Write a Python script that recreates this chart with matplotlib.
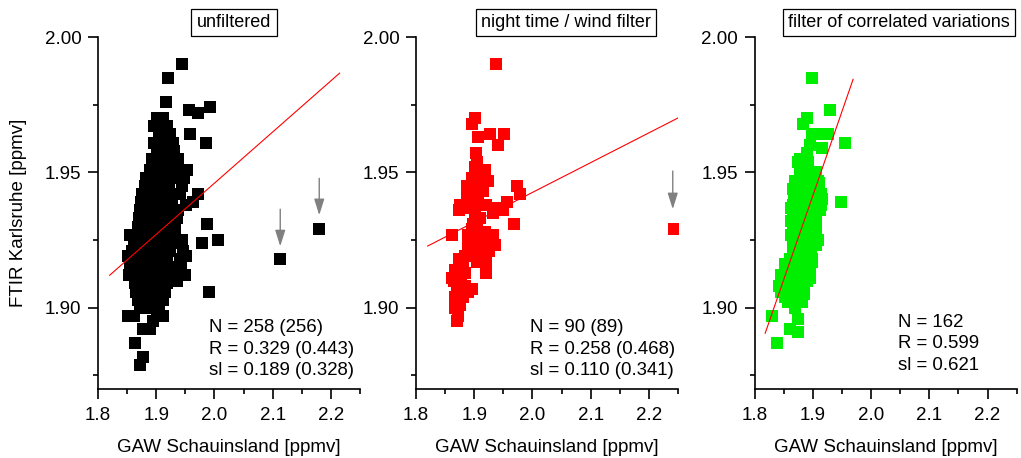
import matplotlib
matplotlib.use("Agg")
import matplotlib.pyplot as plt
from matplotlib.ticker import MultipleLocator, FormatStrFormatter

plt.rcParams['font.family'] = ['Liberation Sans', 'DejaVu Sans']

# ---------------- data ----------------
titles = ["unfiltered", "night time / wind filter", "filter of correlated variations"]
colors = ["#000000", "#ff0000", "#00ee00"]
stats = ["N = 258 (256)\nR = 0.329 (0.443)\nsl = 0.189 (0.328)",
         "N = 90 (89)\nR = 0.258 (0.468)\nsl = 0.110 (0.341)",
         "N = 162\nR = 0.599\nsl = 0.621"]

pts1 = [(1.945,1.990),(1.921,1.985),(1.917,1.976),(1.957,1.973),(1.971,1.972),(1.993,1.974),
(1.901,1.970),(1.912,1.970),
(1.896,1.967),(1.907,1.967),(1.918,1.967),
(1.905,1.964),(1.923,1.964),(1.958,1.964),
(1.897,1.961),(1.909,1.961),(1.929,1.961),(1.986,1.961),
(1.901,1.958),(1.912,1.958),(1.920,1.958),(1.931,1.958),
(1.893,1.955),(1.904,1.955),(1.915,1.955),(1.926,1.955),(1.938,1.955),
(1.889,1.951),(1.899,1.951),(1.910,1.951),(1.921,1.951),(1.932,1.951),(1.953,1.951),
(1.883,1.948),(1.894,1.948),(1.905,1.948),(1.916,1.948),(1.927,1.948),(1.938,1.948),(1.948,1.948),
(1.880,1.945),(1.890,1.945),(1.900,1.945),(1.911,1.945),(1.922,1.945),(1.944,1.945),
(1.876,1.942),(1.886,1.942),(1.897,1.942),(1.908,1.942),(1.919,1.942),(1.930,1.942),(1.941,1.942),(1.972,1.942),
(1.874,1.939),(1.884,1.939),(1.895,1.939),(1.905,1.939),(1.916,1.939),(1.927,1.939),(1.951,1.938),(1.963,1.939),
(1.872,1.936),(1.882,1.936),(1.893,1.936),(1.903,1.936),(1.914,1.936),(1.925,1.936),(1.938,1.936),
(1.871,1.933),(1.881,1.933),(1.891,1.933),(1.902,1.933),(1.913,1.933),(1.924,1.933),(1.935,1.933),
(1.987,1.931),
(1.868,1.930),(1.878,1.930),(1.889,1.930),(1.900,1.930),(1.911,1.930),(1.922,1.930),(1.933,1.930),
(1.855,1.927),(1.866,1.927),(1.877,1.927),(1.888,1.927),(1.899,1.927),(1.910,1.927),(1.921,1.927),(1.932,1.927),
(2.006,1.925),(1.944,1.925),
(1.978,1.924),(1.862,1.924),(1.873,1.924),(1.884,1.924),(1.895,1.924),(1.906,1.924),(1.917,1.924),(1.928,1.924),(1.940,1.924),
(1.858,1.921),(1.869,1.921),(1.880,1.921),(1.891,1.921),(1.902,1.921),(1.913,1.921),(1.924,1.921),(1.946,1.921),
(1.852,1.919),(1.951,1.919),
(1.863,1.918),(1.874,1.918),(1.885,1.918),(1.896,1.918),(1.907,1.918),(1.918,1.918),(1.940,1.918),
(1.855,1.915),(1.866,1.915),(1.877,1.915),(1.888,1.915),(1.899,1.915),(1.910,1.915),(1.921,1.915),(1.932,1.915),(1.943,1.915),
(1.853,1.912),(1.864,1.912),(1.875,1.912),(1.886,1.912),(1.897,1.912),(1.908,1.912),(1.919,1.912),(1.930,1.912),(1.949,1.912),
(1.863,1.909),(1.874,1.909),(1.885,1.909),(1.896,1.909),(1.907,1.909),(1.918,1.909),(1.935,1.910),
(1.991,1.906),(1.866,1.906),(1.877,1.906),(1.888,1.906),(1.899,1.906),(1.915,1.906),
(1.869,1.903),(1.880,1.903),(1.891,1.903),(1.901,1.903),(1.912,1.903),
(1.872,1.900),(1.883,1.900),(1.894,1.900),(1.905,1.900),
(1.852,1.897),(1.862,1.897),(1.902,1.897),(1.912,1.897),(1.895,1.895),
(1.878,1.892),(1.890,1.892),
(1.863,1.887),(1.878,1.882),(1.872,1.879),
(2.113,1.918),(2.180,1.929)]

pts2 = [(1.937,1.990),
(1.902,1.970),(1.896,1.968),(1.906,1.963),(1.927,1.964),(1.951,1.964),(1.940,1.960),
(1.903,1.957),(1.904,1.954),(1.901,1.952),(1.918,1.951),(1.912,1.950),
(1.896,1.948),(1.924,1.947),(1.887,1.945),(1.907,1.944),(1.973,1.945),(1.978,1.942),(1.910,1.946),
(1.898,1.944),(1.915,1.943),
(1.907,1.941),(1.887,1.941),(1.875,1.938),(1.873,1.936),(1.898,1.938),(1.956,1.939),(1.950,1.936),
(1.933,1.935),(1.901,1.935),(1.913,1.938),(1.892,1.943),(1.880,1.937),(1.890,1.937),(1.920,1.938),
(1.940,1.937),(1.910,1.933),
(1.898,1.931),(1.896,1.929),(1.969,1.931),(1.861,1.927),(1.918,1.928),(1.933,1.927),(1.905,1.931),
(1.890,1.927),(1.905,1.927),(1.925,1.925),
(1.890,1.923),(1.913,1.923),(1.935,1.923),(1.918,1.925),(1.900,1.925),(1.905,1.921),(1.900,1.921),
(1.925,1.921),
(1.873,1.918),(1.896,1.919),(1.913,1.919),(1.921,1.917),(1.921,1.913),(1.885,1.919),(1.880,1.917),
(1.905,1.917),
(1.867,1.914),(1.878,1.915),(1.861,1.911),(1.878,1.911),(1.896,1.907),(1.885,1.913),(1.865,1.910),
(1.885,1.908),(1.875,1.905),(1.890,1.906),
(1.867,1.904),(1.881,1.904),(1.867,1.900),(1.870,1.895),(1.870,1.908),(1.875,1.901),(1.872,1.897),
(2.243,1.929)]

pts3 = [(1.899,1.985),(1.929,1.973),(1.889,1.970),(1.883,1.968),(1.898,1.964),(1.915,1.964),(1.926,1.964),
(1.955,1.961),(1.915,1.959),(1.889,1.957),(1.875,1.954),(1.892,1.954),(1.898,1.950),(1.878,1.950),
(1.909,1.947),(1.869,1.947),(1.866,1.944),(1.886,1.943),(1.903,1.943),(1.872,1.939),(1.915,1.940),
(1.948,1.939),(1.863,1.937),(1.912,1.936),(1.886,1.936),(1.863,1.932),(1.886,1.932),(1.903,1.929),
(1.863,1.927),(1.883,1.927),(1.906,1.923),(1.866,1.922),(1.886,1.921),(1.898,1.917),(1.852,1.916),
(1.875,1.916),(1.846,1.912),(1.895,1.911),(1.872,1.911),(1.841,1.908),(1.863,1.907),(1.852,1.904),
(1.878,1.904),(1.881,1.902),(1.829,1.897),(1.875,1.896),(1.861,1.892),(1.875,1.891),(1.838,1.887),
(1.870,1.920),(1.878,1.930),(1.883,1.940),(1.890,1.948),(1.877,1.912),(1.893,1.920),(1.895,1.930),
(1.900,1.937),(1.880,1.946),(1.868,1.928),(1.875,1.924),(1.880,1.918),(1.860,1.910),(1.890,1.915),
(1.885,1.905),(1.895,1.925),(1.870,1.935),(1.900,1.945),(1.885,1.955),(1.895,1.960),(1.905,1.933),
(1.908,1.925),(1.880,1.950),(1.875,1.940),(1.865,1.915),(1.858,1.902),(1.870,1.900),
(1.878,1.955),(1.888,1.955),(1.890,1.950),(1.906,1.950),(1.870,1.946),(1.900,1.946),(1.910,1.946),
(1.868,1.942),(1.878,1.942),(1.888,1.942),(1.898,1.942),(1.908,1.942),(1.914,1.942),
(1.866,1.938),(1.876,1.938),(1.896,1.938),(1.906,1.938),(1.914,1.938),
(1.866,1.934),(1.876,1.934),(1.886,1.934),(1.896,1.934),(1.906,1.934),
(1.866,1.930),(1.876,1.930),(1.886,1.930),(1.896,1.930),(1.906,1.930),
(1.866,1.926),(1.876,1.926),(1.886,1.926),(1.896,1.926),(1.906,1.926),
(1.866,1.922),(1.876,1.922),(1.886,1.922),(1.896,1.922),
(1.860,1.918),(1.870,1.918),(1.880,1.918),(1.890,1.918),(1.898,1.918),
(1.855,1.914),(1.865,1.914),(1.875,1.914),(1.885,1.914),(1.895,1.914),
(1.850,1.910),(1.860,1.910),(1.870,1.910),(1.880,1.910),(1.890,1.910),
(1.845,1.906),(1.855,1.906),(1.865,1.906),(1.875,1.906),(1.885,1.906),
(1.860,1.902),(1.870,1.902),(1.880,1.902)]

points = [pts1, pts2, pts3]

# regression lines: slope, intercept, x-range
fit_slope = [0.189, 0.110, 0.621]
fit_icpt = [1.56802, 1.7226, 0.76162]
fit_xrange = [(1.82, 2.215), (1.82, 2.25), (1.818, 1.969)]

# gray arrows marking outliers: (x, y_start, y_end) per panel
arrows = [[(2.113, 1.9364, 1.9227), (2.180, 1.9478, 1.9342)],
          [(2.241, 1.9505, 1.9364)],
          []]

title_x = [0.519, 0.573, 0.551]
stats_x = [0.425, 0.435, 0.548]
stats_y = [0.198, 0.198, 0.214]

# ---------------- figure ----------------
fig = plt.figure(figsize=(10.21, 4.58), dpi=100)
lefts = [98/1021, 416/1021, 754.7/1021]
bottom = (458-389)/458
width = 262/1021
height = 352/458

for i in range(3):
    ax = fig.add_axes([lefts[i], bottom, width, height])
    xs = [p[0] for p in points[i]]
    ys = [p[1] for p in points[i]]
    ax.scatter(xs, ys, marker='s', s=68, c=colors[i], linewidths=0, zorder=3)
    x0, x1 = fit_xrange[i]
    ax.plot([x0, x1], [fit_icpt[i] + fit_slope[i]*x0, fit_icpt[i] + fit_slope[i]*x1],
            color='#ff0000', lw=0.8, zorder=4)
    for (ax_x, ya, yb) in arrows[i]:
        ax.annotate('', xy=(ax_x, yb), xytext=(ax_x, ya),
                    arrowprops=dict(arrowstyle='-|>,head_length=0.7,head_width=0.22',
                                    color='#808080', lw=1.0, mutation_scale=14,
                                    shrinkA=0, shrinkB=0))
    ax.set_xlim(1.8, 2.25)
    ax.set_ylim(1.87, 2.00)
    ax.xaxis.set_major_locator(MultipleLocator(0.1))
    ax.xaxis.set_minor_locator(MultipleLocator(0.05))
    ax.yaxis.set_major_locator(MultipleLocator(0.05))
    ax.yaxis.set_minor_locator(MultipleLocator(0.025))
    ax.xaxis.set_major_formatter(FormatStrFormatter('%.1f'))
    ax.yaxis.set_major_formatter(FormatStrFormatter('%.2f'))
    for s in ['top', 'right']:
        ax.spines[s].set_visible(False)
    for s in ['left', 'bottom']:
        ax.spines[s].set_linewidth(1.2)
    ax.tick_params(which='major', direction='out', length=7, width=1.2, labelsize=13.5, pad=5)
    ax.tick_params(which='minor', direction='out', length=3.6, width=1.2)
    ax.tick_params(axis='x', which='major', pad=6)
    ax.set_xlabel("GAW Schauinsland [ppmv]", fontsize=13.5, labelpad=11)
    if i == 0:
        ax.set_ylabel("FTIR Karlsruhe [ppmv]", fontsize=13.5, labelpad=13)
    ax.text(title_x[i], 1.041, titles[i], transform=ax.transAxes, ha='center', va='center',
            fontsize=13, bbox=dict(boxstyle='square,pad=0.3', fc='white', ec='black', lw=0.9),
            clip_on=False)
    ax.text(stats_x[i], stats_y[i], stats[i], transform=ax.transAxes, ha='left', va='top',
            fontsize=13.4, linespacing=1.35)

fig.savefig("out.png", dpi=100)
